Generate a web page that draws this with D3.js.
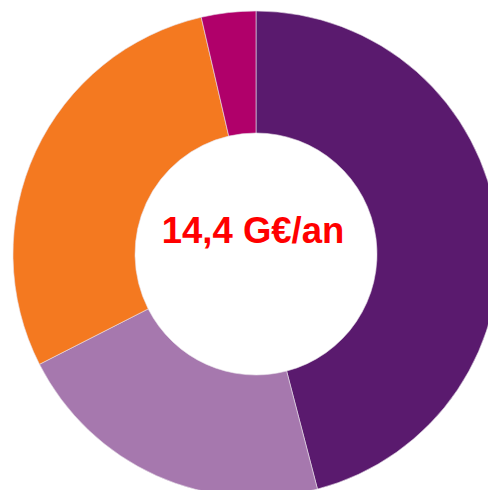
<!DOCTYPE html>
<html>
<head>
<meta charset="utf-8">
<script src="https://cdn.jsdelivr.net/npm/d3@7"></script>
<style>
  html, body { margin: 0; padding: 0; background: #fff; overflow: hidden; }
</style>
</head>
<body>
<svg id="chart"></svg>
<script>
// values in G€/an, clockwise from top
var labels = ["A", "B", "C", "D"];
var values = [6.6, 3.1, 4.15, 0.52];
var colors = ["#5a1a6e", "#a678ae", "#f47920", "#b0006a"];
var total_label = "14,4 G€/an";

var width = 488;
var height = 490;
var cx = 256, cy = 254;
var outer = 243, inner = 121;

var svg = d3.select('#chart')
    .attr("width", width)
    .attr("height", height);

var pie = d3.pie().sort(null).value(d => d);
var arc = d3.arc().innerRadius(inner).outerRadius(outer);

var g = svg.append("g").attr("transform", "translate(" + cx + "," + cy + ")");

g.selectAll("path")
    .data(pie(values))
    .enter().append("path")
    .attr("d", arc)
    .attr("fill", (d, i) => colors[i])
    .attr("stroke", "#e8e0ea")
    .attr("stroke-width", 0.6);

g.append("text")
    .attr("x", -3)
    .attr("y", -11)
    .attr("text-anchor", "middle")
    .attr("font-family", "Liberation Sans, Arial, sans-serif")
    .attr("font-weight", "bold")
    .attr("font-size", 36.5)
    .attr("fill", "#ff0000")
    .text(total_label);
</script>
</body>
</html>
